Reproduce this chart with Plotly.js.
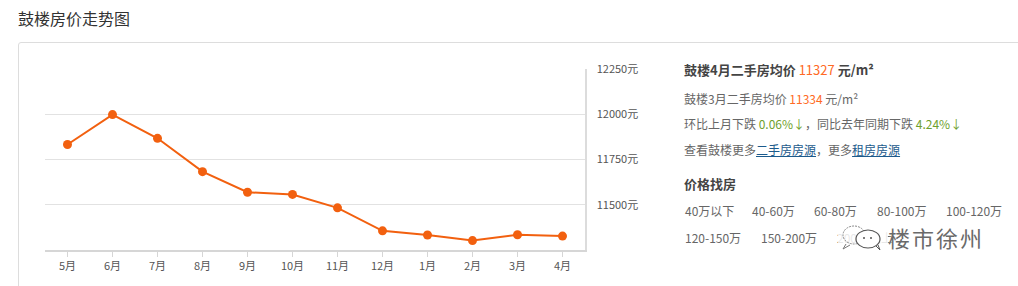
<!DOCTYPE html>
<html>
<head>
<meta charset="utf-8">
<script src="https://cdn.plot.ly/plotly-3.0.1.min.js"></script>
<style>
  html, body { margin:0; padding:0; background:#fff; width:1018px; height:286px; overflow:hidden;
    font-family:"Noto Sans CJK SC","Microsoft YaHei",sans-serif; }
  #title { position:absolute; left:18px; top:7px; font-size:16px; color:#333; line-height:22px; }
  #box { position:absolute; left:18px; top:42px; width:1020px; height:260px; border:1px solid #ddd; border-radius:3px; box-sizing:border-box; }
  #chart { position:absolute; left:0; top:0; width:660px; height:286px; }
  .t { position:absolute; white-space:nowrap; color:#666; font-size:12px; line-height:16px; }
  .b { font-weight:bold; color:#444; font-size:13px; }
  .o { color:#ff6a24; font-weight:normal; }
  .g { color:#6f9f2e; }
  .l { color:#1c5a8c; text-decoration:underline; }
  #wm { position:absolute; left:838px; top:222px; width:150px; height:30px; }
  #wmtext { position:absolute; left:888px; top:225px; font-size:22px; line-height:24px; height:24px; color:#6a6a6a;
    letter-spacing:2px; text-shadow: 0 0 2px #fff; }
</style>
</head>
<body>
<div id="title">鼓楼房价走势图</div>
<div id="box"></div>
<div id="chart"></div>

<div class="t b" style="left:684px; top:62px;">鼓楼4月二手房均价 <span class="o">11327</span> 元/m²</div>
<div class="t" style="left:684px; top:91px;">鼓楼3月二手房均价 <span class="o">11334</span> 元/m²</div>
<div class="t" style="left:684px; top:116px;">环比上月下跌 <span class="g">0.06%↓</span>，同比去年同期下跌 <span class="g">4.24%↓</span></div>
<div class="t" style="left:684px; top:142px;">查看鼓楼更多<span class="l">二手房房源</span>，更多<span class="l">租房房源</span></div>
<div class="t b" style="left:684px; top:176px;">价格找房</div>
<div class="t" style="left:685px; top:203px;">40万以下</div>
<div class="t" style="left:752px; top:203px;">40-60万</div>
<div class="t" style="left:814px; top:203px;">60-80万</div>
<div class="t" style="left:877px; top:203px;">80-100万</div>
<div class="t" style="left:946px; top:203px;">100-120万</div>
<div class="t" style="left:685px; top:230px;">120-150万</div>
<div class="t" style="left:761px; top:230px;">150-200万</div>
<div class="t" style="left:837px; top:230px;">200万以上</div>
<svg id="wm" viewBox="0 0 150 30">
  <rect x="0" y="0" width="50" height="30" fill="#fff" fill-opacity="0.85"/>
  <ellipse cx="16" cy="13" rx="11" ry="9" fill="none" stroke="#888" stroke-width="1" stroke-dasharray="2 1"/>
  <ellipse cx="30" cy="17" rx="12" ry="9" fill="#fff" stroke="#555" stroke-width="1.2"/>
  <circle cx="26" cy="16" r="1" fill="#555"/><circle cx="33" cy="16" r="1" fill="#555"/>
  <path d="M8 22 L5 27 L12 23" fill="none" stroke="#777" stroke-width="1"/>
  <path d="M38 24 L42 28 L40 23" fill="none" stroke="#555" stroke-width="1"/>
</svg>
<div id="wmtext">楼市徐州</div>

<script>
var months = ["5月","6月","7月","8月","9月","10月","11月","12月","1月","2月","3月","4月"];
var prices = [11833, 11998, 11867, 11683, 11569, 11557, 11483, 11356, 11333, 11302, 11334, 11327];
var yTickVals = [11500, 11750, 12000, 12250];
var yTickText = ["11500元", "11750元", "12000元", "12250元"];

var trace = {
  x: months, y: prices, type: "scatter", mode: "lines+markers",
  line: { color: "#f2600f", width: 2 },
  marker: { color: "#f2600f", size: 9 },
  hoverinfo: "none"
};
var layout = {
  width: 660, height: 286,
  margin: { l: 45, r: 75, t: 69, b: 36 },
  paper_bgcolor: "rgba(0,0,0,0)", plot_bgcolor: "rgba(0,0,0,0)",
  showlegend: false,
  font: { family: "Noto Sans CJK SC, sans-serif", size: 11, color: "#555" },
  xaxis: {
    type: "category", range: [-0.5, 11.5], fixedrange: true,
    showgrid: false, zeroline: false,
    showline: true, linecolor: "#d6d6d6", linewidth: 2,
    ticks: "outside", ticklen: 5, tickcolor: "#d6d6d6", tickwidth: 1,
    tickfont: { size: 11, color: "#555" }
  },
  yaxis: {
    side: "right", range: [11250, 12250], fixedrange: true,
    tickvals: yTickVals, ticktext: yTickText,
    showgrid: true, gridcolor: "#e2e2e2", gridwidth: 1,
    zeroline: false, showline: true, linecolor: "#dcdcdc", linewidth: 1.5,
    ticks: "", ticklabelstandoff: 8,
    tickfont: { size: 11, color: "#555" }
  }
};
Plotly.newPlot("chart", [trace], layout, { staticPlot: true, displayModeBar: false });
</script>
</body>
</html>
